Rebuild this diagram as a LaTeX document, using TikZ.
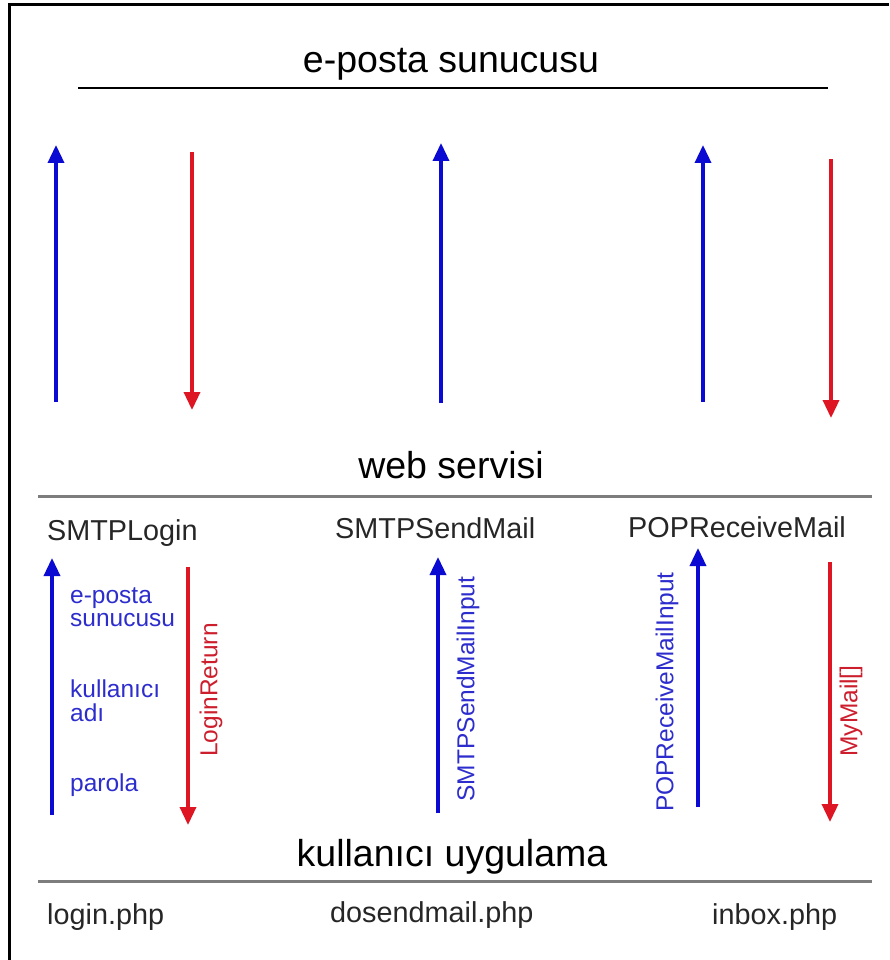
\documentclass[tikz,border=0pt]{standalone}
\usepackage{fontspec}
\setmainfont{Liberation Sans}
\usetikzlibrary{arrows.meta}

\definecolor{callblue}{RGB}{10,10,210}
\definecolor{backred}{RGB}{222,22,36}
\definecolor{textblue}{RGB}{45,45,205}
\definecolor{textred}{RGB}{205,30,45}
\definecolor{rulegray}{RGB}{125,125,125}

\begin{document}
\begin{tikzpicture}[x=1pt, y=-1pt,
  layer/.style = {inner sep=0pt, anchor=base, font=\fontsize{37.5}{40}\selectfont},
  fname/.style = {inner sep=0pt, anchor=base west, text=black!85, font=\fontsize{28.8}{32}\selectfont},
  param/.style = {inner sep=0pt, anchor=base west, text=textblue, font=\fontsize{24.5}{28}\selectfont},
  sidelabel/.style = {inner sep=0pt, rotate=90, font=\fontsize{24.5}{28}\selectfont},
  callarrow/.style = {draw=callblue, line width=3.5pt, -{Triangle[width=16pt,length=18pt]}},
  backarrow/.style = {draw=backred, line width=3.5pt, -{Triangle[width=16pt,length=18pt]}},
  sepline/.style = {draw=rulegray, line width=3pt}
]
\useasboundingbox (0,0) rectangle (889,960);

%frame

\draw [line width=3pt] (9.5,960) -- (9.5,5) -- (889,5);

%layer titles

\node [layer] (server) at (451,73) {e-posta sunucusu};
\node [layer] (service) at (451,478) {web servisi};
\node [layer] (client) at (452,866) {kullanıcı uygulama};

%layer lines

\coordinate (L1a) at (78,88);  \coordinate (L1b) at (828,88);
\coordinate (L2a) at (38,496); \coordinate (L2b) at (872,496);
\coordinate (L3a) at (38,881); \coordinate (L3b) at (872,881);
\draw [line width=2pt] (L1a) -- (L1b);
\draw [sepline] (L2a) -- (L2b);
\draw [sepline] (L3a) -- (L3b);

%methods of the web service

\node [fname] (login) at (47,540) {SMTPLogin};
\node [fname] (send) at (335,538) {SMTPSendMail};
\node [fname] (receive) at (628,537) {POPReceiveMail};

%pages of the client

\node [fname] (loginphp) at (47,924) {login.php};
\node [fname] (sendphp) at (330,922) {dosendmail.php};
\node [fname] (inboxphp) at (712,924) {inbox.php};

%ends of the upper arrows

\coordinate (A1) at (56,402);  \coordinate (A2) at (56,145);
\coordinate (B1) at (192,152); \coordinate (B2) at (192,410);
\coordinate (C1) at (441,403); \coordinate (C2) at (441,143);
\coordinate (D1) at (703,402); \coordinate (D2) at (703,145);
\coordinate (E1) at (831,159); \coordinate (E2) at (831,418);

%ends of the lower arrows

\coordinate (F1) at (52,815);  \coordinate (F2) at (52,558);
\coordinate (G1) at (188,567); \coordinate (G2) at (188,825);
\coordinate (H1) at (438,813); \coordinate (H2) at (438,557);
\coordinate (I1) at (698,807); \coordinate (I2) at (698,548);
\coordinate (J1) at (830,562); \coordinate (J2) at (830,822);

%web service to mail server

\draw [callarrow] (A1) -- (A2);
\draw [backarrow] (B1) -- (B2);
\draw [callarrow] (C1) -- (C2);
\draw [callarrow] (D1) -- (D2);
\draw [backarrow] (E1) -- (E2);

%client to web service

\draw [callarrow] (F1) -- (F2);
\draw [backarrow] (G1) -- (G2);
\draw [callarrow] (H1) -- (H2);
\draw [callarrow] (I1) -- (I2);
\draw [backarrow] (J1) -- (J2);

%parameters

\node [param] (p1) at (70,603) {e-posta};
\node [param] (p2) at (70,626) {sunucusu};
\node [param] (p3) at (70,697) {kullanıcı};
\node [param] (p4) at (70,721) {adı};
\node [param] (p5) at (70,791) {parola};

\node [sidelabel, text=textred] (ret) at (211,690) {LoginReturn};
\node [sidelabel, text=textblue] (sendin) at (468,689) {SMTPSendMailInput};
\node [sidelabel, text=textblue] (recvin) at (667,692) {POPReceiveMailInput};
\node [sidelabel, text=textred] (mails) at (851,711) {MyMail[]};
\end{tikzpicture}
\end{document}
